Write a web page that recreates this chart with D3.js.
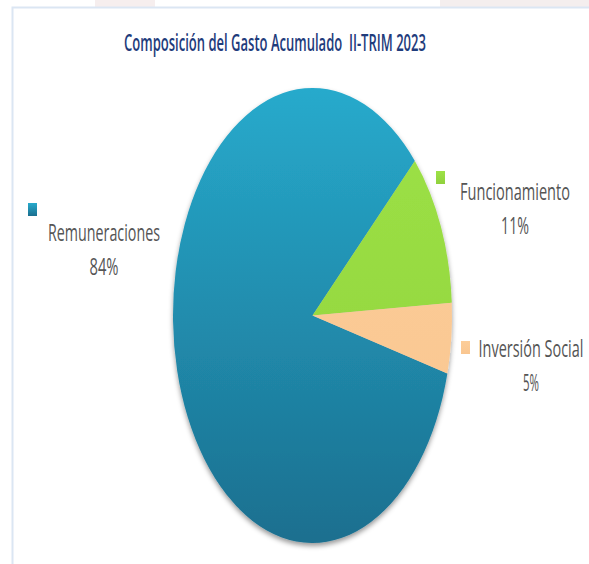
<!DOCTYPE html>
<html>
  <head>
    <meta charset="utf-8" />
    <style>
      body,
      html {
        margin: 0;
        padding: 0;
        background: #fff;
      }
    </style>
  </head>
  <body>
    <svg id="svg" width="589" height="564"></svg>

    <script src="https://cdn.jsdelivr.net/npm/d3@7"></script>
    <script>
      // data
      const categories = ['Remuneraciones', 'Funcionamiento', 'Inversión Social'];
      const shares = [84, 11, 5];
      const shareLabels = ['84%', '11%', '5%'];
      const title = 'Composición del Gasto Acumulado  II-TRIM 2023';

      const width = 589;
      const height = 564;
      const cx = 312.5;
      const cy = 315.5;
      const rx = 139.5;
      const ry = 227.5;
      const rotation = (104.8 * Math.PI) / 180;

      // fills: [top, bottom] of a vertical gradient
      const fills = [
        ['#27aacc', '#1b6f8f'],
        ['#9de246', '#90d13d'],
        ['#fccd99', '#f9c690'],
      ];

      // where Excel put each label: centre x, first baseline y, width of name and of value
      const labelLayout = [
        { x: 104, y: 241, w: 112, pw: 29 },
        { x: 515, y: 200, w: 110, pw: 28 },
        { x: 531, y: 357, w: 105, pw: 16 },
      ];
      const markerLayout = [
        { x: 28, y: 203 },
        { x: 436, y: 171 },
        { x: 461, y: 341 },
      ];
      const font = 'Open Sans, Liberation Sans, sans-serif';

      // squeeze a text horizontally to the width it has in the reference
      const condense = (sel, x, y, w) => {
        sel.attr('x', 0).attr('y', 0).attr('text-anchor', 'middle');
        const len = sel.node().getComputedTextLength();
        sel.attr('transform', `translate(${x},${y}) scale(${w / len},1)`);
      };

      const svg = d3.select('#svg');
      const defs = svg.append('defs');

      fills.forEach((f, i) => {
        const g = defs
          .append('linearGradient')
          .attr('id', 'grad' + i)
          .attr('gradientUnits', 'userSpaceOnUse')
          .attr('x1', 0)
          .attr('x2', 0)
          .attr('y1', -ry)
          .attr('y2', ry);
        g.append('stop').attr('offset', 0).attr('stop-color', f[0]);
        g.append('stop').attr('offset', 1).attr('stop-color', f[1]);
        const m = defs
          .append('linearGradient')
          .attr('id', 'mgrad' + i)
          .attr('x1', 0)
          .attr('x2', 0)
          .attr('y1', 0)
          .attr('y2', 1);
        m.append('stop').attr('offset', 0).attr('stop-color', f[0]);
        m.append('stop').attr('offset', 1).attr('stop-color', f[1]);
      });

      const shadow = defs
        .append('filter')
        .attr('id', 'shadow')
        .attr('x', '-20%')
        .attr('y', '-20%')
        .attr('width', '140%')
        .attr('height', '140%');
      shadow
        .append('feDropShadow')
        .attr('dx', 0)
        .attr('dy', 3)
        .attr('stdDeviation', 2.5)
        .attr('flood-color', '#000')
        .attr('flood-opacity', 0.4);

      // faint background strip above the chart frame
      svg.append('rect').attr('width', width).attr('height', height).attr('fill', '#fff');
      svg
        .append('rect')
        .attr('x', 95)
        .attr('y', 0)
        .attr('width', 60)
        .attr('height', 7)
        .attr('fill', '#f6eeee');
      svg
        .append('rect')
        .attr('x', 440)
        .attr('y', 0)
        .attr('width', 149)
        .attr('height', 7)
        .attr('fill', '#f4eeee');

      // chart frame
      svg
        .append('path')
        .attr('d', `M12.5,${height} V7.5 H${width}`)
        .attr('fill', 'none')
        .attr('stroke', '#dbe6f3')
        .attr('stroke-width', 2);

      svg
        .append('text')
        .attr('font-family', font)
        .attr('font-weight', 600)
        .attr('font-size', 22.5)
        .attr('fill', '#1f3c7c')
        .style('white-space', 'pre')
        .text(title)
        .call(condense, 275, 51, 302);

      const data = categories.map((c, i) => ({ name: c, value: shares[i], label: shareLabels[i], i }));

      const pie = d3
        .pie()
        .sort(null)
        .value((d) => d.value)
        .startAngle(rotation)
        .endAngle(rotation + 2 * Math.PI);

      const arc = d3.arc().innerRadius(0).outerRadius(ry);

      const pieGroup = svg.append('g').attr('filter', 'url(#shadow)');
      const inner = pieGroup
        .append('g')
        .attr('transform', `translate(${cx},${cy}) scale(${rx / ry},1)`);

      inner
        .selectAll('path')
        .data(pie(data))
        .join('path')
        .attr('d', arc)
        .attr('fill', (d) => `url(#grad${d.data.i})`);

      // legend-style labels
      const labels = svg
        .append('g')
        .selectAll('g')
        .data(data)
        .join('g');

      labels
        .append('rect')
        .attr('x', (d) => markerLayout[d.i].x)
        .attr('y', (d) => markerLayout[d.i].y)
        .attr('width', 9)
        .attr('height', 13)
        .attr('fill', (d) => `url(#mgrad${d.i})`);

      labels.each(function (d) {
        const g = d3.select(this);
        const L = labelLayout[d.i];
        g.append('text')
          .attr('font-family', font)
          .attr('font-weight', 500)
          .attr('font-size', 23.5)
          .attr('fill', '#555')
          .text(d.name)
          .call(condense, L.x, L.y, L.w);
        g.append('text')
          .attr('font-family', font)
          .attr('font-weight', 500)
          .attr('font-size', 23.5)
          .attr('fill', '#555')
          .text(d.label)
          .call(condense, L.x, L.y + 34, L.pw);
      });
    </script>
  </body>
</html>
